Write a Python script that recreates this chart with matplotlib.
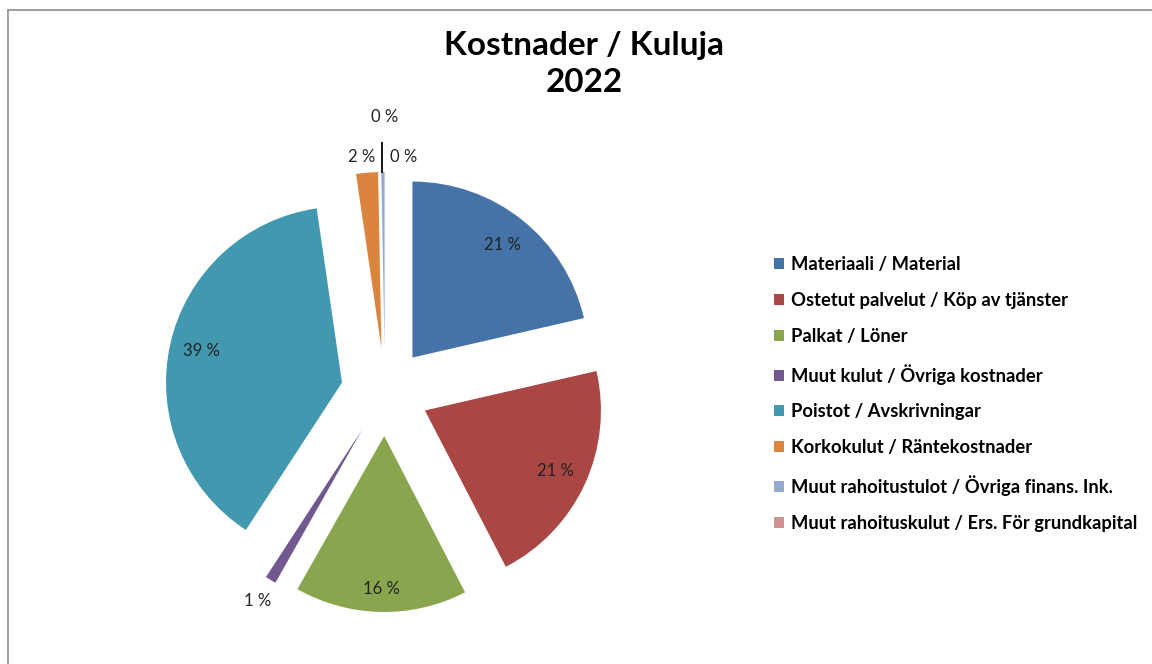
import matplotlib
matplotlib.use("Agg")
import numpy as np
import matplotlib.pyplot as plt
from matplotlib.patches import Rectangle

plt.rcParams['font.family'] = ['Lato', 'DejaVu Sans']

# data
categories = [
    "Materiaali / Material",
    "Ostetut palvelut / Köp av tjänster",
    "Palkat / Löner",
    "Muut kulut / Övriga kostnader",
    "Poistot / Avskrivningar",
    "Korkokulut / Räntekostnader",
    "Muut rahoitustulot / Övriga finans. Ink.",
    "Muut rahoituskulut / Ers. För grundkapital",
]
shares = [21.4, 21.0, 15.8, 1.0, 38.5, 2.0, 0.3, 0.0]
pct_labels = ["21 %", "21 %", "16 %", "1 %", "39 %", "2 %", "0 %", "0 %"]
colors = ["#4572A7", "#AA4643", "#89A54E", "#71588F",
          "#4198AF", "#DB843D", "#93A9CF", "#D19392"]

# label placement: (distance from pie centre, angle shift in degrees)
label_pos = [(1.07, 0), (1.07, 0), (1.12, 0), (1.39, 0),
             (1.07, 0), (1.34, 1), (1.34, -5), (1.56, 0)]

W, H = 1152, 664
fig = plt.figure(figsize=(W / 100, H / 100), dpi=100)

# frame
fig.patches.append(Rectangle((8 / W, -0.1), 1.2, 1 - 10 / H + 0.1,
                             transform=fig.transFigure, fill=False,
                             edgecolor="#8c8c8c", linewidth=1.2))

fig.text(584 / W, 1 - 64 / H, "Kostnader / Kuluja\n2022", ha="center",
         va="center", fontsize=24, fontweight="bold", linespacing=1.3)

# pie axes: centre at (385, 392) px, radius 176 px
R = 176
half = 250
ax = fig.add_axes([(385 - half) / W, (H - 392 - half) / H, 2 * half / W, 2 * half / H])

wedges, _ = ax.pie(shares, colors=colors, startangle=90, counterclock=False,
                   explode=[0.25] * len(shares), radius=1.0,
                   wedgeprops=dict(linewidth=0))
for w in wedges:
    w.set_clip_on(False)

lim = half / R
ax.set_xlim(-lim, lim)
ax.set_ylim(-lim, lim)
ax.set_aspect("equal")
ax.axis("off")

for w, lab, (dist, shift) in zip(wedges, pct_labels, label_pos):
    mid = np.deg2rad((w.theta1 + w.theta2) / 2 + shift)
    x, y = dist * np.cos(mid), dist * np.sin(mid)
    ax.text(x, y, lab, ha="center", va="center", fontsize=12, color="#222222")

# leader line for the last zero slice
ax.plot([-0.015, -0.015], [1.25, 1.49], color="black", linewidth=1.3)

leg = fig.legend(wedges, categories, loc="center left",
                 bbox_to_anchor=(757 / W, 1 - 394 / H), frameon=False,
                 handlelength=0.55, handleheight=0.55, handletextpad=0.4,
                 labelspacing=1.03, prop=dict(size=13.2, weight="bold"))

fig.savefig("out.png", dpi=100)
